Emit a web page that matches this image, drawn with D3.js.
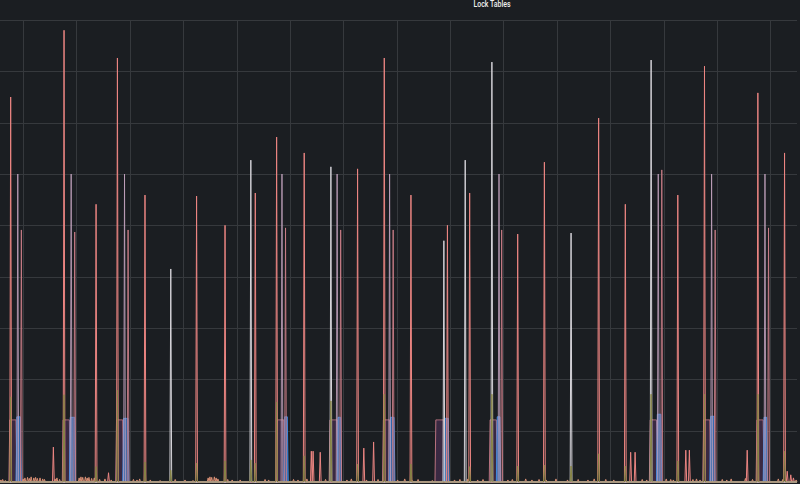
<!DOCTYPE html>
<html>
<head>
<meta charset="utf-8">
<script src="https://cdn.jsdelivr.net/npm/d3@7"></script>
<style>
  html, body { margin: 0; background: #1b1e22; }
  svg { display: block; }
  .grid-line { stroke: #36393d; stroke-width: 1; }
  .title { fill: #f0f0f0; font-family: Roboto, "Noto Sans", sans-serif; font-size: 8.5px; font-weight: 500; text-anchor: middle; }
  .series { fill: none; stroke-width: 1; stroke-linejoin: miter; }
</style>
</head>
<body>
<div id="wrapper"></div>
<script>
// samples are one per minute, minute 0 at the left edge of the panel
const titleText = 'Lock Tables';
const hourTicks = [26, 86, 146, 206, 266, 326, 386, 446, 506, 566, 626, 686, 746, 806, 866];
const valueTicks = [100, 200, 300, 400, 500, 600, 700, 800, 900];

// flat blocks: [first minute, last minute, value]
const purpleBlocks = [
  [11, 18, 121], [71, 78, 121], [131, 138, 121], [312, 319, 121], [371, 379, 121],
  [431, 438, 121], [490, 499, 121], [551, 558, 121], [731, 738, 121], [791, 798, 121], [851, 858, 121],
];
const blueBlocks = [
  [19, 23, 127], [79, 84, 126], [139, 144, 124], [320, 323, 127], [380, 383, 126],
  [439, 443, 126], [500, 504, 124], [559, 562, 127], [739, 743, 132], [799, 803, 128], [859, 862, 126],
];

// single-sample spikes: [minute, value]
const redSpikes = [
  [12, 750], [72, 880], [132, 826], [311, 672], [432, 826], [792, 810], [852, 758],
  [108, 541], [163, 559], [221, 557], [253, 500], [287, 563], [342, 641], [402, 610],
  [462, 559], [503, 500], [528, 563], [582, 483], [612, 623], [673, 709], [703, 541],
  [762, 559], [882, 641],
  [60, 68], [122, 18], [350, 60], [352, 60], [360, 58], [409, 66], [420, 78], [709, 58],
  [714, 58], [771, 62], [775, 62], [840, 62], [885, 21], [889, 14], [892, 8],
];
const whiteSpikes = [
  [372, 614], [553, 818], [732, 822], [192, 415], [282, 627], [523, 627], [642, 485], [499, 470],
];
const lilacSpikes = [
  [20, 600], [80, 600], [140, 600], [317, 600], [379, 600], [438, 600], [561, 600],
  [740, 600], [800, 600], [860, 600],
];
const pinkSpikes = [
  [24, 491], [84, 487], [144, 491], [321, 495], [383, 491], [442, 491], [564, 491],
  [744, 608], [804, 491], [864, 495],
];
const greenSpikes = [
  [12, 166], [72, 170], [132, 179], [311, 156], [372, 158], [432, 171], [553, 171],
  [732, 171], [792, 171], [852, 171],
  [108, 30], [163, 39], [192, 23], [221, 37], [253, 41], [282, 43], [287, 37], [342, 51],
  [402, 35], [462, 35], [528, 30], [582, 31], [612, 33], [642, 31], [673, 55], [703, 31],
  [762, 41], [882, 60],
];
const peachBumps = [
  [1, 4], [3, 5], [6, 3], [26, 6], [28, 8], [31, 9], [33, 7], [35, 10], [38, 8], [40, 9],
  [42, 7], [45, 8], [48, 6], [50, 5], [62, 6], [64, 8], [67, 5], [89, 8], [91, 10],
  [93, 9], [96, 10], [98, 8], [100, 9], [103, 7], [106, 8], [112, 5], [118, 6], [125, 4],
  [150, 5], [154, 4], [157, 6], [169, 4], [180, 3], [197, 5], [208, 4], [217, 3],
  [234, 8], [236, 10], [238, 9], [241, 10], [243, 8], [245, 6], [256, 5], [261, 4],
  [270, 4], [298, 5], [302, 4], [330, 5], [335, 4], [345, 6], [366, 5], [390, 4],
  [395, 6], [412, 4], [425, 5], [447, 4], [455, 6], [463, 4], [470, 5], [486, 3],
  [511, 4], [517, 5], [526, 6], [537, 4], [543, 5], [571, 4], [576, 5], [591, 6],
  [598, 4], [606, 5], [614, 4], [625, 6], [638, 4], [650, 5], [661, 4], [668, 6],
  [681, 5], [690, 4], [722, 5], [727, 4], [749, 6], [754, 5], [757, 4], [779, 5],
  [783, 6], [787, 4], [812, 5], [817, 4], [822, 6], [838, 7], [846, 5], [875, 6],
  [880, 5], [895, 4],
];

function drawChart() {
  const width = 800;
  const height = 484;
  const plot = { left: 0, right: 797, top: 20, bottom: 482 };
  const lastMinute = 896;
  const minutes = d3.range(0, lastMinute + 1);

  const fromSpikes = (list) => {
    const values = minutes.map(() => 0);
    list.forEach(([t, v]) => { values[t] = v; });
    return values;
  };
  const fromBlocks = (list) => {
    const values = minutes.map(() => 0);
    list.forEach(([a, b, v]) => {
      for (let t = a; t <= b; t++) values[t] = v;
    });
    return values;
  };

  const xScale = d3.scaleLinear().domain([0, lastMinute]).range([plot.left, plot.right]);
  const yScale = d3.scaleLinear().domain([0, 900]).range([plot.bottom, plot.top]);

  const svg = d3.select('#wrapper').append('svg')
    .attr('width', width)
    .attr('height', height);

  // grid
  const grid = svg.append('g');
  grid.selectAll('.h').data(valueTicks).join('line')
    .attr('class', 'grid-line')
    .attr('x1', plot.left).attr('x2', plot.right)
    .attr('y1', (d) => Math.round(yScale(d)) + 0.5)
    .attr('y2', (d) => Math.round(yScale(d)) + 0.5);
  grid.selectAll('.v').data(hourTicks).join('line')
    .attr('class', 'grid-line')
    .attr('x1', (d) => Math.round(xScale(d)) + 0.5)
    .attr('x2', (d) => Math.round(xScale(d)) + 0.5)
    .attr('y1', plot.top).attr('y2', plot.bottom);

  svg.append('text')
    .attr('class', 'title')
    .attr('x', 492)
    .attr('y', 7)
    .attr('textLength', 37)
    .attr('lengthAdjust', 'spacingAndGlyphs')
    .text(titleText);

  const line = d3.line()
    .x((d, i) => xScale(i))
    .y((d) => yScale(d));
  const area = d3.area()
    .x((d, i) => xScale(i))
    .y0(yScale(0))
    .y1((d) => yScale(d));

  const series = [
    { values: fromBlocks(purpleBlocks), stroke: '#b8727f', fill: '#3a2942' },
    { values: fromBlocks(blueBlocks), stroke: '#3f8ae0', fill: '#2d66aa' },
    { values: fromSpikes(peachBumps), stroke: '#d98f74' },
    { values: fromSpikes(redSpikes), stroke: '#ec8582' },
    { values: fromSpikes(pinkSpikes), stroke: '#cc7e88', opacity: 0.9 },
    { values: fromSpikes(lilacSpikes), stroke: '#c2a2bd', opacity: 0.85 },
    { values: fromSpikes(whiteSpikes), stroke: '#d6d4da' },
    { values: fromSpikes(greenSpikes), stroke: '#868444' },
  ];

  const layer = svg.append('g');
  series.forEach((s) => {
    if (s.fill) {
      layer.append('path')
        .attr('d', area(s.values))
        .attr('fill', s.fill);
    }
    layer.append('path')
      .attr('class', 'series')
      .attr('d', line(s.values))
      .attr('stroke', s.stroke)
      .attr('stroke-opacity', s.opacity || 1);
  });
}
drawChart();
</script>
</body>
</html>
